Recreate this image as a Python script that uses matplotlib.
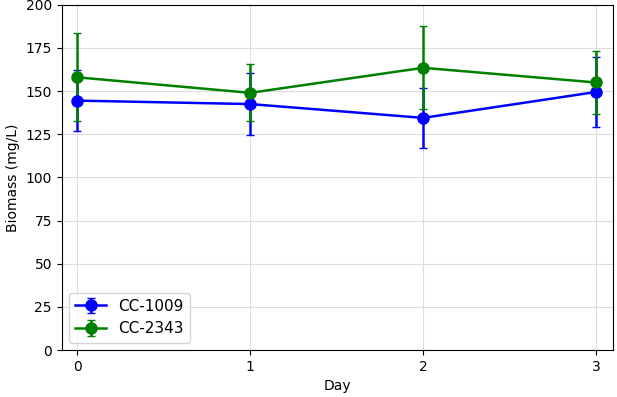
import matplotlib
matplotlib.use('Agg')
import matplotlib.pyplot as plt

# Biomass by day for the two strains
days = [0, 1, 2, 3]
cc1009_mean = [144.5, 142.5, 134.5, 149.5]
cc1009_err = [17.5, 18, 17.5, 20]
cc2343_mean = [158, 149, 163.5, 155]
cc2343_err = [25.5, 16.5, 24, 18.5]

fig, ax = plt.subplots(figsize=(6.17, 3.97), dpi=100)

ax.errorbar(days, cc1009_mean, yerr=cc1009_err, fmt='-o', color='blue',
            capsize=3, linewidth=1.8, markersize=8, label='CC-1009')
ax.errorbar(days, cc2343_mean, yerr=cc2343_err, fmt='-o', color='green',
            capsize=3, linewidth=1.8, markersize=8, label='CC-2343')

ax.set_xlim(-0.09, 3.1)
ax.set_ylim(0, 200)
ax.set_xticks(days)
ax.set_xlabel('Day')
ax.set_ylabel('Biomass (mg/L)')
ax.grid(True, color='#dddddd', linewidth=0.8)
ax.legend(loc='lower left', fontsize=11)

fig.subplots_adjust(left=0.1, right=0.994, top=0.988, bottom=0.118)
fig.savefig('out.png', dpi=100)
